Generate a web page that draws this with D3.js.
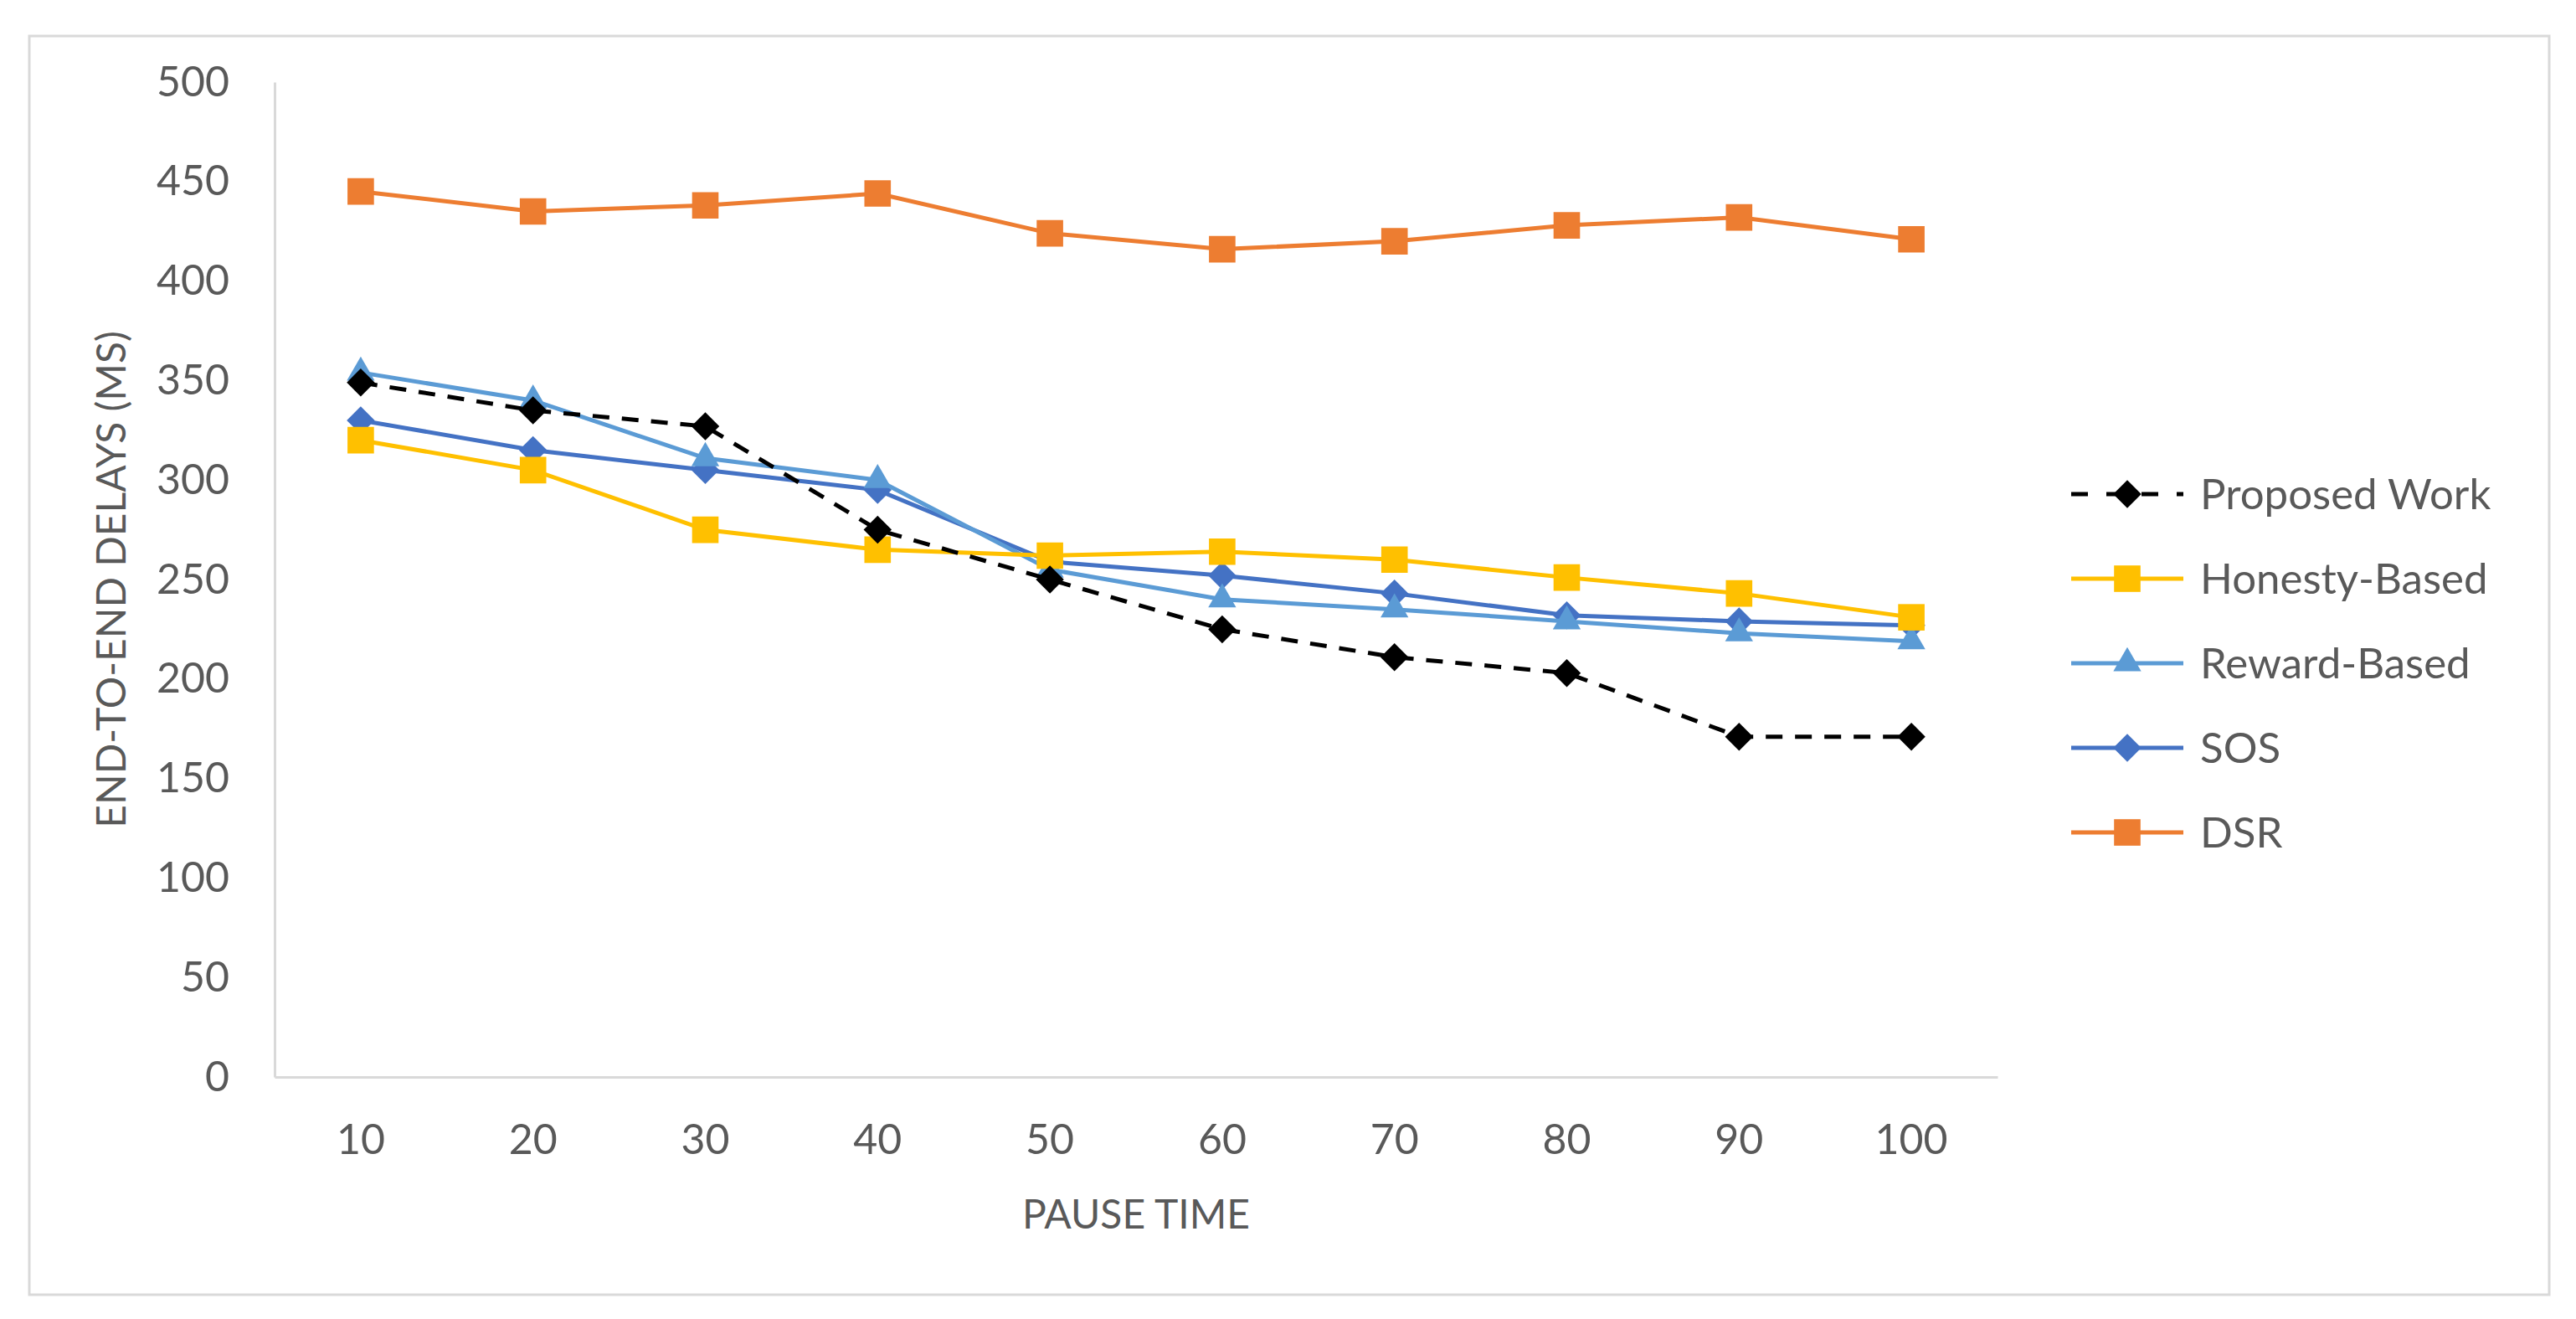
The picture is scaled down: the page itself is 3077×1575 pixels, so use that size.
<!DOCTYPE html>
<html>
<head>
<meta charset="utf-8">
<script src="https://cdn.jsdelivr.net/npm/d3@7"></script>
<style>
  body { margin: 0; background: #fff; }
  text { font-family: Lato, "Open Sans", sans-serif; fill: #595959; }
</style>
</head>
<body>
<svg width="3077" height="1575"></svg>
<script>
// pause time categories
var pauseTimes = [10, 20, 30, 40, 50, 60, 70, 80, 90, 100];
// end-to-end delays (ms) for each scheme
var proposedWork = [349, 335, 327, 275, 250, 225, 211, 203, 171, 171];
var honestyBased = [320, 305, 275, 265, 262, 264, 260, 251, 243, 231];
var rewardBased = [354, 340, 311, 300, 255, 240, 235, 229, 223, 219];
var sos = [330, 315, 305, 295, 259, 252, 243, 232, 229, 227];
var dsr = [445, 435, 438, 444, 424, 416, 420, 428, 432, 421];
var yTicks = [0, 50, 100, 150, 200, 250, 300, 350, 400, 450, 500];

// square turned 45 degrees, like the excel diamond marker
var diamond = {
  draw: function(context, size) {
    var r = Math.sqrt(size / 2);
    context.moveTo(0, -r);
    context.lineTo(r, 0);
    context.lineTo(0, r);
    context.lineTo(-r, 0);
    context.closePath();
  }
};

var series = [
  { name: 'Proposed Work', values: proposedWork, color: '#000000', symbol: diamond, size: 560, dash: '20,15' },
  { name: 'Honesty-Based', values: honestyBased, color: '#FFC000', symbol: d3.symbolSquare, size: 1000, dash: null },
  { name: 'Reward-Based', values: rewardBased, color: '#5B9BD5', symbol: d3.symbolTriangle, size: 480, dash: null },
  { name: 'SOS', values: sos, color: '#4472C4', symbol: diamond, size: 560, dash: null },
  { name: 'DSR', values: dsr, color: '#ED7D31', symbol: d3.symbolSquare, size: 1000, dash: null }
];

var svg = d3.select('svg');

// outer chart border
svg.append('rect')
  .attr('x', 35).attr('y', 43)
  .attr('width', 3010).attr('height', 1503)
  .attr('fill', '#fff')
  .attr('stroke', '#d9d9d9')
  .attr('stroke-width', 3);

var margin = { top: 98, left: 328 };
var width = 2058;
var height = 1188;

var g = svg.append('g')
  .attr('transform', 'translate(' + margin.left + ',' + margin.top + ')');

var xScale = d3.scaleBand()
  .domain(pauseTimes)
  .range([0, width]);

var yScale = d3.scaleLinear()
  .domain([0, 500])
  .range([height, 0]);

// y axis
var yAxis = g.append('g')
  .call(d3.axisLeft(yScale).tickValues(yTicks).tickSize(0).tickPadding(54));
yAxis.select('.domain').attr('stroke', '#d9d9d9').attr('stroke-width', 3);
yAxis.selectAll('text').style('font-size', '50px').attr('fill', '#595959');

// x axis
var xAxis = g.append('g')
  .attr('transform', 'translate(0,' + height + ')')
  .call(d3.axisBottom(xScale).tickSize(0).tickPadding(56));
xAxis.select('.domain').attr('stroke', '#d9d9d9').attr('stroke-width', 3);
xAxis.selectAll('text').style('font-size', '50px').attr('fill', '#595959');

// axis titles
svg.append('text')
  .attr('x', margin.left + width / 2)
  .attr('y', 1467)
  .attr('text-anchor', 'middle')
  .style('font-size', '48px')
  .text('PAUSE TIME');

svg.append('text')
  .attr('transform', 'translate(150,692) rotate(-90)')
  .attr('text-anchor', 'middle')
  .style('font-size', '48px')
  .text('END-TO-END DELAYS (MS)');

var line = d3.line()
  .x(function(d, i) { return xScale(pauseTimes[i]) + xScale.bandwidth() / 2; })
  .y(function(d) { return yScale(d); });

// draw in reverse so Proposed Work sits on top
series.slice().reverse().forEach(function(s) {
  g.append('path')
    .datum(s.values)
    .attr('fill', 'none')
    .attr('stroke', s.color)
    .attr('stroke-width', 5)
    .attr('stroke-dasharray', s.dash)
    .attr('d', line);

  g.selectAll(null)
    .data(s.values)
    .enter()
    .append('path')
    .attr('transform', function(d, i) {
      return 'translate(' + (xScale(pauseTimes[i]) + xScale.bandwidth() / 2) + ',' + yScale(d) + ')';
    })
    .attr('d', d3.symbol().type(s.symbol).size(s.size))
    .attr('fill', s.color);
});

// legend
var legend = svg.append('g').attr('transform', 'translate(2474,590)');
series.forEach(function(s, i) {
  var row = legend.append('g').attr('transform', 'translate(0,' + (i * 101) + ')');
  row.append('line')
    .attr('x1', 0).attr('x2', 134)
    .attr('stroke', s.color)
    .attr('stroke-width', 5)
    .attr('stroke-dasharray', s.dash ? '20,22' : null);
  row.append('path')
    .attr('transform', 'translate(67,0)')
    .attr('d', d3.symbol().type(s.symbol).size(s.size))
    .attr('fill', s.color);
  row.append('text')
    .attr('x', 154)
    .attr('dy', '0.35em')
    .style('font-size', '51px')
    .text(s.name);
});
</script>
</body>
</html>
